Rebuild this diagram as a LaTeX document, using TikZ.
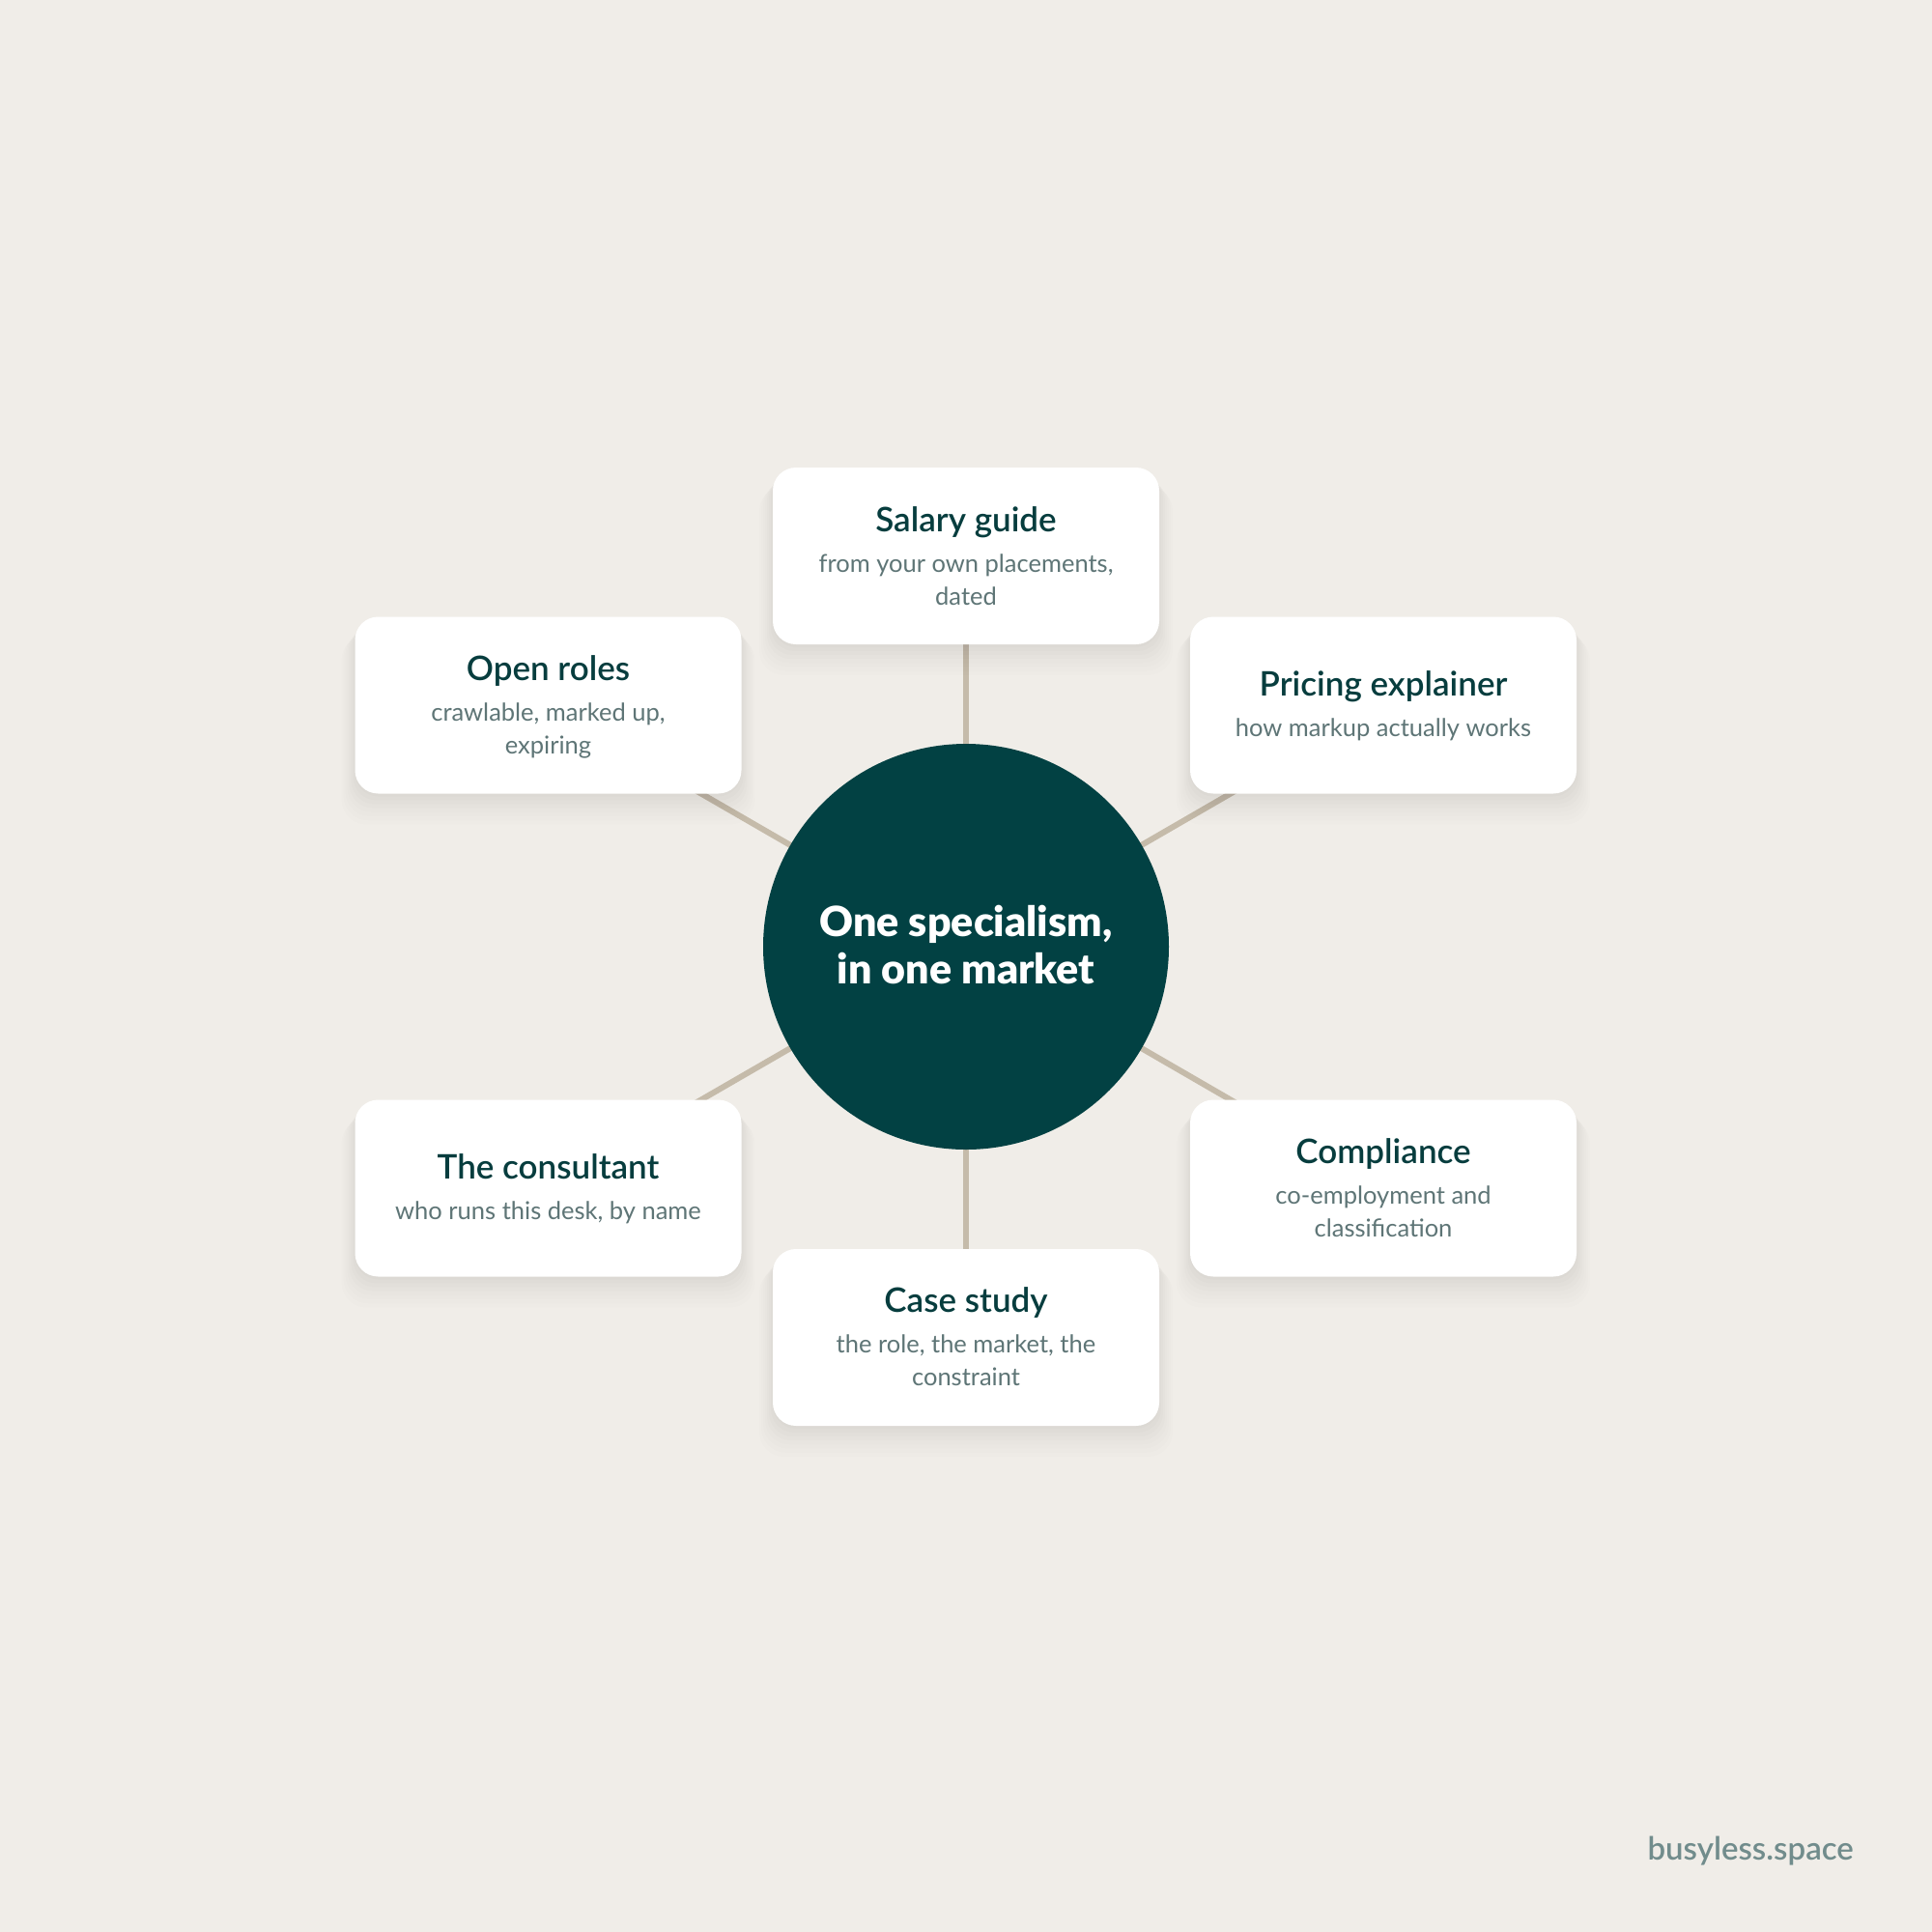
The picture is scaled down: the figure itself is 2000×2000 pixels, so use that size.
\documentclass[tikz,border=0pt]{standalone}
\usepackage{fontspec}
\setmainfont{Lato}
\newfontfamily\regf{Lato}
\newfontfamily\semif{Lato Semibold}
\newfontfamily\blackf{Lato Black}
\usetikzlibrary{shadows,backgrounds}
\definecolor{bgc}{HTML}{F0EDE8}
\definecolor{hubc}{HTML}{024143}
\definecolor{titlec}{HTML}{073D3E}
\definecolor{subc}{HTML}{5E7576}
\definecolor{spokec}{HTML}{C5BBAA}
\definecolor{footc}{HTML}{718C8C}
\tikzset{
  card/.style={rectangle, fill=white, draw=none, rounded corners=24pt,
    minimum width=400pt, minimum height=183pt, inner sep=0pt,
    general shadow={fill=black, opacity=0.010, shadow yshift=-3pt, shadow scale=1.00},
    general shadow={fill=black, opacity=0.010, shadow yshift=-6pt, shadow scale=1.01},
    general shadow={fill=black, opacity=0.010, shadow yshift=-9pt, shadow scale=1.02},
    general shadow={fill=black, opacity=0.010, shadow yshift=-12pt, shadow scale=1.03},
    general shadow={fill=black, opacity=0.009, shadow yshift=-15pt, shadow scale=1.04},
    general shadow={fill=black, opacity=0.008, shadow yshift=-18pt, shadow scale=1.05},
    general shadow={fill=black, opacity=0.007, shadow yshift=-21pt, shadow scale=1.06},
    general shadow={fill=black, opacity=0.006, shadow yshift=-24pt, shadow scale=1.07}},
  hub/.style={circle, fill=hubc, draw=none, minimum size=420pt, inner sep=0pt},
  spoke/.style={draw=spokec, line width=6pt},
  ttl/.style={anchor=base, inner sep=0pt, text=titlec, font=\semif\fontsize{35}{40}\selectfont},
  sub/.style={anchor=base, inner sep=0pt, text=subc, font=\regf\fontsize{25.5}{30}\selectfont},
  hubtxt/.style={anchor=base, inner sep=0pt, text=white, font=\blackf\fontsize{43}{48}\selectfont},
  foot/.style={anchor=base east, inner sep=0pt, text=footc, font=\semif\fontsize{33}{36}\selectfont}
}
\begin{document}
\begin{tikzpicture}[x=1pt,y=-1pt]
\useasboundingbox (0,0) rectangle (2000,2000);
% hub and cards
\node[hub] (hub) at (1000,980) {};
\node[card] (sal) at (1000,575.5) {};
\node[card] (open) at (567.5,730) {};
\node[card] (pric) at (1432,730) {};
\node[card] (cons) at (567.5,1230) {};
\node[card] (comp) at (1432,1230) {};
\node[card] (case) at (1000,1384.5) {};
% background and spokes
\begin{scope}[on background layer]
\fill[bgc] (0,0) rectangle (2000,2000);
\draw[spoke] (hub.center) -- (sal.center);
\draw[spoke] (hub.center) -- (open.center);
\draw[spoke] (hub.center) -- (pric.center);
\draw[spoke] (hub.center) -- (cons.center);
\draw[spoke] (hub.center) -- (comp.center);
\draw[spoke] (hub.center) -- (case.center);
\end{scope}
% hub text
\node[hubtxt] (h1) at (1000,969) {One specialism,};
\node[hubtxt] (h2) at (1000,1018) {in one market};
% salary
\node[ttl] (salt) at (1000,550) {Salary guide};
\node[sub] (sals1) at (1000,592) {from your own placements,};
\node[sub] (sals2) at (1000,626) {dated};
% open roles
\node[ttl] (opent) at (567.5,704) {Open roles};
\node[sub] (opens1) at (567.5,746) {crawlable, marked up,};
\node[sub] (opens2) at (567.5,780) {expiring};
% pricing
\node[ttl] (prict) at (1432,720) {Pricing explainer};
\node[sub] (prics) at (1432,762) {how markup actually works};
% consultant
\node[ttl] (const) at (567.5,1220) {The consultant};
\node[sub] (conss) at (567.5,1262) {who runs this desk, by name};
% compliance
\node[ttl] (compt) at (1432,1204) {Compliance};
\node[sub] (comps1) at (1432,1246) {co-employment and};
\node[sub] (comps2) at (1432,1280) {classification};
% case study
\node[ttl] (caset) at (1000,1358) {Case study};
\node[sub] (cases1) at (1000,1400) {the role, the market, the};
\node[sub] (cases2) at (1000,1434) {constraint};
% footer
\node[foot] (footer) at (1919,1925) {busyless.space};
\end{tikzpicture}
\end{document}
